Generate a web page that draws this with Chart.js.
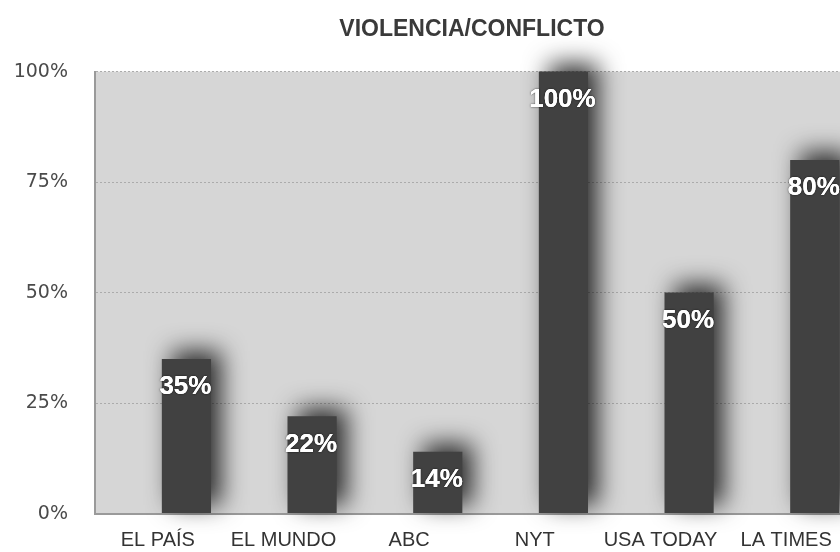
<!DOCTYPE html>
<html>
<head>
<meta charset="utf-8">
<script src="https://cdn.jsdelivr.net/npm/chart.js@4.4.1/dist/chart.umd.min.js"></script>
<style>
  html, body { margin: 0; padding: 0; background: #fff; overflow: hidden; }
  #wrap { width: 860px; height: 552px; }
</style>
</head>
<body>
<div id="wrap"><canvas id="violenciaChart"></canvas></div>
<script>
const periodicos = ['EL PAÍS', 'EL MUNDO', 'ABC', 'NYT', 'USA TODAY', 'LA TIMES'];
const violencia = [35, 22, 14, 100, 50, 80];
const ticksY = [0, 25, 50, 75, 100];

// fondo gris del area del grafico
const fondoArea = {
    id: 'fondoArea',
    beforeDraw(chart) {
        const { ctx, chartArea: a } = chart;
        ctx.save();
        ctx.fillStyle = '#d6d6d6';
        ctx.fillRect(a.left, a.top, a.right - a.left, a.bottom - a.top);
        ctx.restore();
    }
};

// sombra difusa de las barras + etiquetas blancas
const sombraBarras = {
    id: 'sombraBarras',
    beforeDatasetsDraw(chart) {
        const ctx = chart.ctx;
        ctx.save();
        ctx.shadowColor = 'rgba(0,0,0,0.8)';
        ctx.shadowBlur = 24;
        ctx.shadowOffsetX = 10;
        ctx.shadowOffsetY = -8;
    },
    afterDatasetsDraw(chart) {
        const ctx = chart.ctx;
        ctx.restore();
        const meta = chart.getDatasetMeta(1);
        ctx.save();
        ctx.font = 'bold 26px "Liberation Sans", Arial, sans-serif';
        ctx.textAlign = 'center';
        ctx.textBaseline = 'middle';
        ctx.fillStyle = '#ffffff';
        meta.data.forEach((bar, i) => {
            const txt = violencia[i] + '%';
            ctx.shadowColor = 'rgba(0,0,0,0.8)';
            ctx.shadowBlur = 2;
            ctx.fillText(txt, bar.x - 1, bar.y + 28);
            ctx.shadowColor = 'transparent';
            ctx.fillText(txt, bar.x - 1, bar.y + 28);
        });
        ctx.restore();
    }
};

new Chart(document.getElementById('violenciaChart'), {
    type: 'bar',
    data: {
        labels: periodicos,
        datasets: [{
            label: '',
            data: periodicos.map(() => null)
        }, {
            label: 'Violencia/Conflicto',
            data: violencia,
            backgroundColor: '#414141',
            clip: false
        }]
    },
    options: {
        responsive: true,
        maintainAspectRatio: false,
        animation: false,
        categoryPercentage: 0.91,
        barPercentage: 0.86,
        layout: { padding: { left: 0, right: 11, top: 0, bottom: 0 } },
        plugins: {
            legend: { display: false },
            tooltip: { enabled: false },
            title: {
                display: true,
                fullSize: false,
                text: 'VIOLENCIA/CONFLICTO',
                color: '#3a3a3a',
                font: { family: '"Liberation Sans", Arial, sans-serif', size: 23, weight: 'bold' },
                padding: { top: 16, bottom: 28 }
            }
        },
        scales: {
            x: {
                grid: { display: false, drawTicks: false },
                border: { color: '#9a9a9a', width: 2 },
                ticks: {
                    color: '#333',
                    padding: 15,
                    font: { family: '"Liberation Sans", Arial, sans-serif', size: 20 }
                },
                afterFit(s) { s.height = 35; }
            },
            y: {
                min: 0,
                max: 100,
                afterBuildTicks(s) { s.ticks = ticksY.map(v => ({ value: v })); },
                grid: { color: '#ababab', lineWidth: 1, drawTicks: false },
                border: { color: '#9a9a9a', width: 2, dash: [2, 2] },
                ticks: {
                    color: '#4a4a4a',
                    padding: 27,
                    font: { family: '"DejaVu Sans", sans-serif', size: 19 },
                    callback: v => v + '%'
                },
                afterFit(s) { s.width = 95; }
            }
        }
    },
    plugins: [fondoArea, sombraBarras]
});
</script>
</body>
</html>
